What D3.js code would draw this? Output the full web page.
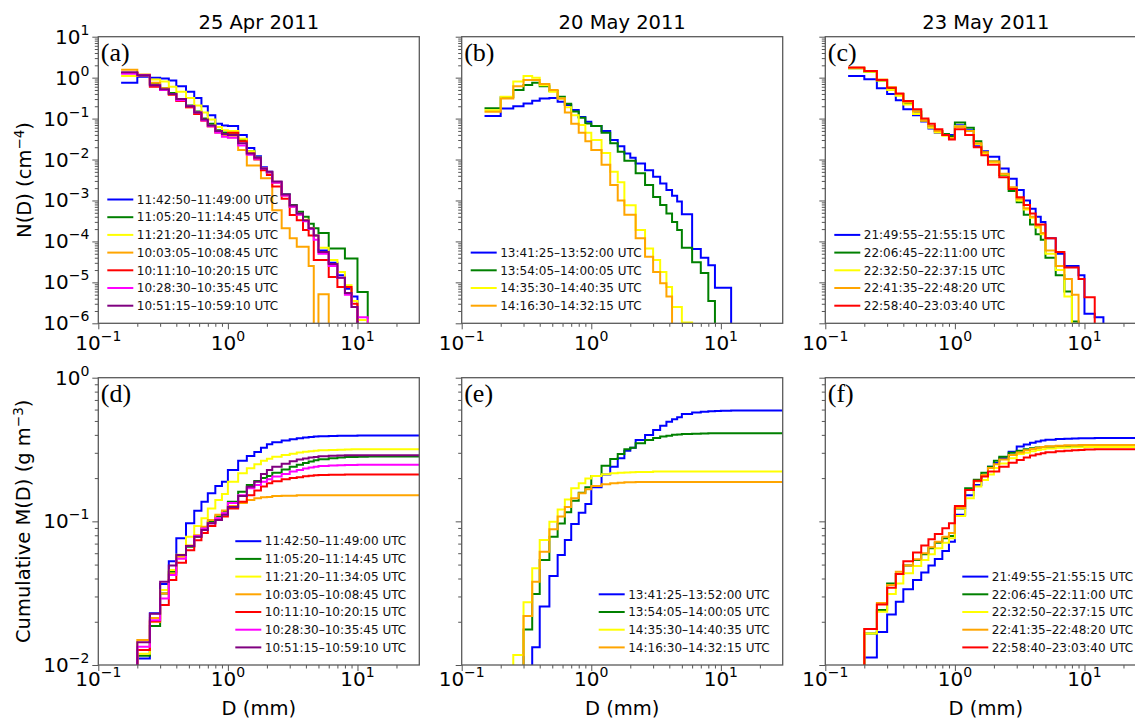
<!DOCTYPE html>
<html lang="en">
<head>
<meta charset="UTF-8">
<title>Drop size distributions, 2011</title>
<script src="https://d3js.org/d3.v7.min.js"></script>
<style>
  body { margin: 0; background: #fff; }
  svg { display: block; font-family: "DejaVu Sans", sans-serif; }
  .tick-label { font-size: 20px; fill: #000; }
  .axis-title { font-size: 19.5px; fill: #000; }
  .legend text { font-size: 12px; fill: #111; }
  .panel-tag { font-family: "Liberation Serif", "Times New Roman", serif; font-size: 26px; fill: #000; }
</style>
</head>
<body>
<div id="chart"></div>
<script>
// bin edges in mm, shared by every spectrum
const binEdges = [0.15, 0.2, 0.25, 0.3, 0.35, 0.4, 0.475, 0.55, 0.625, 0.7, 0.8, 0.9, 1.0,
  1.2, 1.4, 1.6, 1.8, 2.0, 2.2, 2.6, 3.0, 3.4, 3.8, 4.2, 4.6, 5.0, 6.0, 7.0, 8.0, 9.0,
  10.0, 12.0, 14.0, 16.0, 20.0, 25.0, 30.0];

const titles = ["25 Apr 2011", "20 May 2011", "23 May 2011"];

// ---- 25 Apr 2011 ----
const periodsA = ["11:42:50–11:49:00 UTC", "11:05:20–11:14:45 UTC", "11:21:20–11:34:05 UTC",
  "10:03:05–10:08:45 UTC", "10:11:10–10:20:15 UTC", "10:28:30–10:35:45 UTC", "10:51:15–10:59:10 UTC"];
const colorsA = ["blue", "green", "yellow", "orange", "red", "magenta", "purple"];
const ndA = [
  [0.75, 1.05, 1.0, 0.95, 0.85, 0.62, 0.45, 0.32, 0.2, 0.12, 0.075, 0.068, 0.066, 0.04, 0.019, 0.012, 0.0065, 0.005, 0.0028, 0.0014, 0.0007, 0.00047, 0.00033, 0.00021, 0.00014, 0.00006, 0.00003, 0.000015, 0.000007, 0.0000045, 0],
  [1.3, 1.15, 0.7, 0.55, 0.42, 0.3, 0.21, 0.15, 0.1, 0.075, 0.052, 0.046, 0.045, 0.03, 0.016, 0.011, 0.006, 0.0048, 0.0027, 0.0014, 0.00077, 0.00053, 0.0004, 0.00027, 0.00021, 0.00016, 0.000067, 0.000067, 0.000038, 0.000038, 0.0000058, 0],
  [1.1, 1.15, 0.9, 0.8, 0.6, 0.45, 0.32, 0.21, 0.14, 0.095, 0.062, 0.052, 0.05, 0.032, 0.016, 0.011, 0.006, 0.0048, 0.0027, 0.0013, 0.0007, 0.00045, 0.00034, 0.00021, 0.00014, 0.00007, 0.000035, 0.000018, 0.0000085, 0.0000035, 0.0000012, 0],
  [1.55, 1.2, 0.75, 0.55, 0.4, 0.28, 0.19, 0.13, 0.09, 0.065, 0.045, 0.04, 0.035, 0.017, 0.0071, 0.0071, 0.0035, 0.0035, 0.00058, 0.00021, 0.00012, 0.000074, 0.000074, 0.000025, 0, 0.0000051, 0],
  [1.3, 1.15, 0.6, 0.5, 0.38, 0.27, 0.19, 0.13, 0.09, 0.065, 0.048, 0.042, 0.045, 0.028, 0.014, 0.01, 0.0055, 0.0042, 0.0022, 0.0011, 0.00044, 0.00033, 0.00019, 0.00014, 0.000035, 0.000035, 0.0000135, 0.0000077, 0.0000077, 0.000003, 0],
  [1.25, 1.15, 0.65, 0.5, 0.4, 0.28, 0.2, 0.14, 0.09, 0.065, 0.045, 0.036, 0.034, 0.022, 0.013, 0.0105, 0.006, 0.0048, 0.0027, 0.0013, 0.0007, 0.00045, 0.00031, 0.0002, 0.00011, 0.00005, 0.000025, 0.000013, 0.000005, 0.0000025, 0.0000014, 0],
  [1.35, 1.15, 0.65, 0.52, 0.4, 0.3, 0.2, 0.14, 0.095, 0.068, 0.05, 0.042, 0.04, 0.025, 0.014, 0.011, 0.006, 0.005, 0.0029, 0.0014, 0.00075, 0.00048, 0.00033, 0.00021, 0.00014, 0.000055, 0.000028, 0.000013, 0.0000055, 0.0000025, 0]
];
const cumA = [
  [0.004, 0.0111, 0.0229, 0.0367, 0.0527, 0.0762, 0.0969, 0.1187, 0.137, 0.1566, 0.176, 0.189, 0.2276, 0.264, 0.285, 0.304, 0.326, 0.344, 0.356, 0.366, 0.373, 0.379, 0.383, 0.386, 0.389, 0.391, 0.393, 0.394, 0.395, 0.395, 0.396, 0.396, 0.396, 0.396, 0.396, 0.396],
  [0.004, 0.0116, 0.0187, 0.0315, 0.0446, 0.0574, 0.0666, 0.078, 0.0894, 0.0995, 0.108, 0.117, 0.137, 0.161, 0.179, 0.191, 0.2, 0.207, 0.218, 0.23, 0.24, 0.248, 0.255, 0.261, 0.266, 0.271, 0.275, 0.278, 0.28, 0.281, 0.282, 0.283, 0.283, 0.283, 0.283, 0.283],
  [0.004, 0.012, 0.02, 0.0333, 0.0458, 0.0586, 0.078, 0.093, 0.105, 0.123, 0.141, 0.155, 0.189, 0.216, 0.234, 0.25, 0.264, 0.273, 0.282, 0.29, 0.296, 0.301, 0.305, 0.308, 0.31, 0.312, 0.314, 0.315, 0.316, 0.317, 0.317, 0.318, 0.318, 0.318, 0.318, 0.318],
  [0.004, 0.0149, 0.0212, 0.0315, 0.0434, 0.0568, 0.068, 0.08, 0.0917, 0.102, 0.111, 0.119, 0.128, 0.134, 0.141, 0.145, 0.147, 0.148, 0.15, 0.151, 0.151, 0.152, 0.152, 0.152, 0.152, 0.152, 0.152, 0.152, 0.152, 0.152, 0.152, 0.152, 0.152, 0.152, 0.152, 0.152],
  [0.004, 0.0127, 0.0201, 0.0262, 0.039, 0.0516, 0.063, 0.074, 0.083, 0.093, 0.102, 0.108, 0.123, 0.137, 0.152, 0.164, 0.175, 0.184, 0.19, 0.196, 0.2, 0.203, 0.206, 0.208, 0.209, 0.21, 0.211, 0.211, 0.212, 0.212, 0.212, 0.212, 0.212, 0.212, 0.212, 0.212],
  [0.004, 0.0134, 0.0205, 0.029, 0.0423, 0.055, 0.0674, 0.079, 0.089, 0.097, 0.105, 0.114, 0.134, 0.152, 0.17, 0.179, 0.189, 0.196, 0.205, 0.214, 0.222, 0.228, 0.233, 0.237, 0.24, 0.243, 0.245, 0.246, 0.247, 0.247, 0.248, 0.248, 0.248, 0.248, 0.248, 0.248],
  [0.004, 0.0144, 0.0227, 0.038, 0.0492, 0.0583, 0.0674, 0.078, 0.087, 0.097, 0.102, 0.111, 0.126, 0.15, 0.174, 0.189, 0.214, 0.228, 0.24, 0.252, 0.262, 0.269, 0.274, 0.278, 0.281, 0.284, 0.286, 0.287, 0.288, 0.288, 0.289, 0.289, 0.289, 0.289, 0.289, 0.289]
];

// ---- 20 May 2011 ----
const periodsB = ["13:41:25–13:52:00 UTC", "13:54:05–14:00:05 UTC", "14:35:30–14:40:35 UTC", "14:16:30–14:32:15 UTC"];
const colorsB = ["blue", "green", "yellow", "orange"];
const ndB = [
  [0.115, 0.177, 0.2, 0.234, 0.272, 0.31, 0.32, 0.258, 0.214, 0.161, 0.11, 0.084, 0.066, 0.05, 0.03, 0.021, 0.014, 0.011, 0.008, 0.0055, 0.0038, 0.0026, 0.0018, 0.0013, 0.00095, 0.00046, 0.000065, 0.00004, 0.000026, 0.0000074, 0.0000074, 0],
  [0.18, 0.33, 0.5, 0.66, 0.75, 0.62, 0.47, 0.34, 0.23, 0.15, 0.105, 0.076, 0.066, 0.045, 0.025, 0.0155, 0.0093, 0.0093, 0.0046, 0.0024, 0.00122, 0.00077, 0.00048, 0.0003, 0.00019, 0.00007, 0.000031, 0.000017, 0.0000035, 0],
  [0.16, 0.34, 0.8, 1.1, 1.0, 0.65, 0.45, 0.31, 0.19, 0.12, 0.07, 0.045, 0.03, 0.0145, 0.005, 0.0028, 0.00076, 0.00076, 0.00019, 0.000067, 0.000035, 0.000018, 0.0000077, 0.0000025, 0.0000025, 0.00000105, 0],
  [0.147, 0.31, 0.62, 0.87, 0.87, 0.7, 0.5, 0.31, 0.14, 0.075, 0.045, 0.028, 0.017, 0.0075, 0.0024, 0.001, 0.00045, 0.00045, 0.00012, 0.000042, 0.000018, 0.0000095, 0.0000045, 0]
];
const cumB = [
  [0.001, 0.002, 0.004, 0.007, 0.0133, 0.0255, 0.0417, 0.0583, 0.0741, 0.096, 0.115, 0.132, 0.173, 0.212, 0.24, 0.275, 0.31, 0.326, 0.368, 0.399, 0.432, 0.463, 0.494, 0.513, 0.53, 0.559, 0.572, 0.58, 0.584, 0.587, 0.589, 0.59, 0.59, 0.59, 0.59, 0.59],
  [0.002, 0.004, 0.007, 0.0177, 0.0312, 0.0538, 0.078, 0.0968, 0.1156, 0.139, 0.158, 0.173, 0.207, 0.244, 0.272, 0.294, 0.318, 0.326, 0.349, 0.368, 0.38, 0.389, 0.395, 0.4, 0.403, 0.406, 0.408, 0.409, 0.41, 0.41, 0.41, 0.41, 0.41, 0.41, 0.41, 0.41],
  [0.003, 0.005, 0.01175, 0.0273, 0.0471, 0.0741, 0.0995, 0.121, 0.142, 0.17, 0.184, 0.199, 0.207, 0.213, 0.216, 0.218, 0.219, 0.22, 0.221, 0.221, 0.222, 0.222, 0.222, 0.222, 0.222, 0.222, 0.222, 0.222, 0.222, 0.222, 0.222, 0.222, 0.222, 0.222, 0.222, 0.222],
  [0.002, 0.004, 0.007, 0.0219, 0.038, 0.0615, 0.088, 0.108, 0.126, 0.145, 0.157, 0.167, 0.176, 0.181, 0.184, 0.186, 0.187, 0.187, 0.188, 0.188, 0.188, 0.188, 0.188, 0.188, 0.188, 0.188, 0.188, 0.188, 0.188, 0.188, 0.188, 0.188, 0.188, 0.188, 0.188, 0.188]
];

// ---- 23 May 2011 ----
const periodsC = ["21:49:55–21:55:15 UTC", "22:06:45–22:11:00 UTC", "22:32:50–22:37:15 UTC",
  "22:41:35–22:48:20 UTC", "22:58:40–23:03:40 UTC"];
const colorsC = ["blue", "green", "yellow", "orange", "red"];
const ndC = [
  [1.1, 0.92, 0.55, 0.4, 0.28, 0.17, 0.12, 0.085, 0.057, 0.045, 0.04, 0.04, 0.069, 0.052, 0.021, 0.016, 0.0117, 0.0117, 0.006, 0.0034, 0.0018, 0.001, 0.00063, 0.0004, 0.0003, 0.00012, 0.00005, 0.000025, 0.000025, 0.000015, 0.0000017, 0.0000014, 0],
  [1.7, 1.4, 0.85, 0.55, 0.4, 0.24, 0.15, 0.09, 0.065, 0.05, 0.042, 0.037, 0.08, 0.06, 0.028, 0.015, 0.009, 0.009, 0.0042, 0.0017, 0.0009, 0.00045, 0.00026, 0.00015, 0.00011, 0.00004, 0.000015, 0.000006, 0.0000011, 0],
  [1.7, 1.4, 0.85, 0.5, 0.36, 0.22, 0.13, 0.09, 0.06, 0.046, 0.038, 0.033, 0.065, 0.05, 0.024, 0.014, 0.0085, 0.0085, 0.0043, 0.002, 0.001, 0.0006, 0.00038, 0.00022, 0.00015, 0.00005, 0.00002, 0.0000045, 0],
  [1.75, 1.45, 0.9, 0.58, 0.4, 0.25, 0.15, 0.09, 0.065, 0.05, 0.04, 0.033, 0.062, 0.05, 0.025, 0.015, 0.009, 0.009, 0.0045, 0.0021, 0.0011, 0.00065, 0.0004, 0.00024, 0.00016, 0.00006, 0.000025, 0.000012, 0.000005, 0],
  [1.78, 1.45, 0.87, 0.57, 0.41, 0.27, 0.17, 0.1, 0.075, 0.055, 0.04, 0.031, 0.055, 0.04, 0.02, 0.0127, 0.0075, 0.0075, 0.0037, 0.0019, 0.0012, 0.00077, 0.00048, 0.00026, 0.00026, 0.00012, 0.000055, 0.000023, 0.000023, 0.000012, 0.0000043, 0]
];
const cumC = [
  [0.004, 0.0113, 0.017, 0.0225, 0.0276, 0.0337, 0.0391, 0.044, 0.0492, 0.0547, 0.0622, 0.0722, 0.111, 0.152, 0.179, 0.21, 0.24, 0.255, 0.275, 0.305, 0.332, 0.343, 0.352, 0.36, 0.366, 0.37, 0.374, 0.376, 0.378, 0.379, 0.379, 0.38, 0.38, 0.38, 0.38, 0.38],
  [0.004, 0.0166, 0.0241, 0.037, 0.043, 0.0492, 0.0538, 0.0589, 0.0649, 0.0711, 0.0762, 0.079, 0.123, 0.17, 0.195, 0.218, 0.24, 0.264, 0.282, 0.3, 0.31, 0.318, 0.323, 0.327, 0.329, 0.331, 0.332, 0.332, 0.333, 0.333, 0.333, 0.333, 0.333, 0.333, 0.333, 0.333],
  [0.004, 0.0166, 0.0235, 0.0312, 0.037, 0.0435, 0.0489, 0.0538, 0.0589, 0.0649, 0.0711, 0.0762, 0.109, 0.145, 0.175, 0.194, 0.212, 0.235, 0.253, 0.275, 0.294, 0.3, 0.308, 0.314, 0.318, 0.322, 0.325, 0.327, 0.328, 0.328, 0.329, 0.329, 0.329, 0.329, 0.329, 0.329],
  [0.005, 0.0178, 0.027, 0.036, 0.0445, 0.0492, 0.0545, 0.06, 0.066, 0.072, 0.078, 0.083, 0.124, 0.165, 0.19, 0.21, 0.235, 0.25, 0.27, 0.29, 0.302, 0.312, 0.319, 0.325, 0.329, 0.333, 0.336, 0.338, 0.339, 0.34, 0.34, 0.34, 0.34, 0.34, 0.34, 0.34],
  [0.005, 0.0178, 0.0264, 0.0345, 0.043, 0.0527, 0.0606, 0.0678, 0.075, 0.0817, 0.0895, 0.097, 0.128, 0.165, 0.192, 0.205, 0.222, 0.222, 0.24, 0.256, 0.267, 0.278, 0.287, 0.293, 0.298, 0.303, 0.307, 0.31, 0.312, 0.314, 0.316, 0.317, 0.318, 0.318, 0.318, 0.318]
];

// ---- layout ----
const W = 1135, H = 720;
const colLeft = [98.3, 461.7, 825.3];
const pw = 321;
const rowTop = [36.7, 377.7];
const rowH = [286.6, 287.3];

const svg = d3.select("#chart").append("svg")
  .attr("width", W).attr("height", H);

const x = d3.scaleLog().domain([0.1, 30]).range([0, pw]);
const yN = d3.scaleLog().domain([1e-6, 10]).range([rowH[0], 0]);
const yM = d3.scaleLog().domain([0.01, 1]).range([rowH[1], 0]);

const xMajor = [0.1, 1, 10];
const xMinor = [2, 3, 4, 5, 6, 7, 8, 9].map(k => k / 10)
  .concat([2, 3, 4, 5, 6, 7, 8, 9], [20]);
const decadeMinors = (lo, hi) => d3.range(lo, hi).flatMap(e => [2, 3, 4, 5, 6, 7, 8, 9].map(k => k * Math.pow(10, e)));

const panels = [
  { tag: "(a)", col: 0, row: 0, y: yN, ticks: d3.range(-6, 2), minors: decadeMinors(-6, 1), data: ndA, periods: periodsA, colors: colorsA },
  { tag: "(b)", col: 1, row: 0, y: yN, ticks: d3.range(-6, 2), minors: decadeMinors(-6, 1), data: ndB, periods: periodsB, colors: colorsB },
  { tag: "(c)", col: 2, row: 0, y: yN, ticks: d3.range(-6, 2), minors: decadeMinors(-6, 1), data: ndC, periods: periodsC, colors: colorsC },
  { tag: "(d)", col: 0, row: 1, y: yM, ticks: [-2, -1, 0], minors: decadeMinors(-2, 0), data: cumA, periods: periodsA, colors: colorsA },
  { tag: "(e)", col: 1, row: 1, y: yM, ticks: [-2, -1, 0], minors: decadeMinors(-2, 0), data: cumB, periods: periodsB, colors: colorsB },
  { tag: "(f)", col: 2, row: 1, y: yM, ticks: [-2, -1, 0], minors: decadeMinors(-2, 0), data: cumC, periods: periodsC, colors: colorsC }
];

// "10" with a superscript exponent
function powText(sel, e) {
  sel.append("tspan").text("10");
  sel.append("tspan").attr("dy", -9).attr("font-size", 14)
    .text(e < 0 ? "\u2212" + (-e) : String(e));
}

function stepPath(vals, y, h) {
  const pts = [];
  vals.forEach((v, i) => {
    const yy = v > 0 ? y(v) : h + 40;
    pts.push([x(binEdges[i]), yy], [x(binEdges[i + 1]), yy]);
  });
  return d3.line()(pts);
}

panels.forEach((p, pi) => {
  const h = rowH[p.row];
  const g = svg.append("g")
    .attr("transform", `translate(${colLeft[p.col]},${rowTop[p.row]})`);

  // clip to the axes box
  g.append("clipPath").attr("id", "clip" + pi)
    .append("rect").attr("width", pw).attr("height", h);

  // x ticks
  const gx = g.append("g").attr("transform", `translate(0,${h})`);
  gx.call(d3.axisBottom(x).tickValues(xMajor).tickSize(6).tickSizeOuter(0).tickFormat(""));
  gx.append("g").call(d3.axisBottom(x).tickValues(xMinor).tickSize(3.5).tickSizeOuter(0).tickFormat(""));
  gx.selectAll(".domain").remove();

  // y ticks
  const gy = g.append("g");
  gy.call(d3.axisLeft(p.y).tickValues(p.ticks.map(e => Math.pow(10, e))).tickSize(6).tickSizeOuter(0).tickFormat(""));
  gy.append("g").call(d3.axisLeft(p.y).tickValues(p.minors).tickSize(3.5).tickSizeOuter(0).tickFormat(""));
  gy.selectAll(".domain").remove();
  g.selectAll(".tick line").attr("stroke", "#555").attr("stroke-width", 1);

  // x tick labels
  const xLabY = h + (p.row === 0 ? 27 : 21);
  xMajor.forEach(v => {
    g.append("text").attr("class", "tick-label")
      .attr("x", x(v)).attr("y", xLabY).attr("text-anchor", "middle")
      .call(powText, Math.round(Math.log10(v)));
  });

  // y tick labels, first column only
  if (p.col === 0) {
    p.ticks.forEach(e => {
      g.append("text").attr("class", "tick-label")
        .attr("x", -9).attr("y", p.y(Math.pow(10, e)) + 7).attr("text-anchor", "end")
        .call(powText, e);
    });
  }

  // step lines
  g.append("g").attr("clip-path", `url(#clip${pi})`)
    .selectAll("path").data(p.data).join("path")
    .attr("d", d => stepPath(d, p.y, h))
    .attr("fill", "none")
    .attr("stroke", (d, i) => p.colors[i])
    .attr("stroke-width", 2)
    .attr("stroke-linejoin", "miter");

  // frame
  g.append("rect").attr("width", pw).attr("height", h)
    .attr("fill", "none").attr("stroke", "#5a5a5a").attr("stroke-width", 1.3);

  // panel tag
  g.append("text").attr("class", "panel-tag").attr("x", 2.5).attr("y", 24.5).text(p.tag);

  // legend: lower left on top row, lower right on bottom row
  const n = p.periods.length;
  const lx = p.row === 0 ? 9 : 137;
  const leg = g.append("g").attr("class", "legend");
  p.periods.forEach((lab, i) => {
    const ly = h - 17.6 - (n - 1 - i) * 17.7;
    leg.append("line").attr("x1", lx).attr("x2", lx + 26).attr("y1", ly).attr("y2", ly)
      .attr("stroke", p.colors[i]).attr("stroke-width", 2);
    leg.append("text").attr("x", lx + 29.5).attr("y", ly + 4.3).text(lab);
  });

  // titles and x labels
  if (p.row === 0) {
    g.append("text").attr("class", "axis-title").attr("x", pw / 2).attr("y", -8)
      .attr("text-anchor", "middle").text(titles[p.col]);
  } else {
    g.append("text").attr("class", "axis-title").attr("x", pw / 2).attr("y", h + 50)
      .attr("text-anchor", "middle").text("D (mm)");
  }
});

// y axis titles
const yt1 = svg.append("text").attr("class", "axis-title").attr("text-anchor", "middle")
  .attr("transform", `translate(31,${rowTop[0] + rowH[0] / 2}) rotate(-90)`);
yt1.append("tspan").text("N(D) (cm");
yt1.append("tspan").attr("dy", -7.5).attr("font-size", 13.5).text("\u22124");
yt1.append("tspan").attr("dy", 7.5).text(")");

const yt2 = svg.append("text").attr("class", "axis-title").attr("text-anchor", "middle")
  .attr("transform", `translate(30,${rowTop[1] + rowH[1] / 2}) rotate(-90)`);
yt2.append("tspan").text("Cumulative M(D) (g m");
yt2.append("tspan").attr("dy", -7.5).attr("font-size", 13.5).text("\u22123");
yt2.append("tspan").attr("dy", 7.5).text(")");
</script>
</body>
</html>
